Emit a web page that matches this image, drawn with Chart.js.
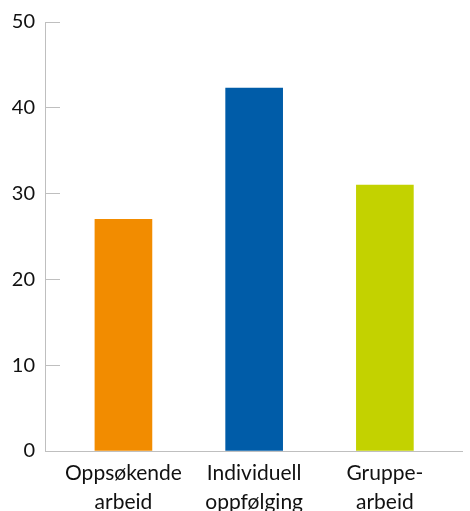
<!DOCTYPE html>
<html>
<head>
<meta charset="utf-8">
<script src="https://cdn.jsdelivr.net/npm/chart.js@4/dist/chart.umd.min.js"></script>
<style>
  html, body { margin: 0; padding: 0; background: #fff; }
  #wrap { width: 470px; height: 511px; }
</style>
</head>
<body>
<div id="wrap"><canvas id="chart"></canvas></div>
<script>
// Categories (two-line labels) and values
const categories = [
  ['Oppsøkende', 'arbeid'],
  ['Individuell', 'oppfølging'],
  ['Gruppe-', 'arbeid'],
];
const values = [27, 42.3, 31];
const barColors = ['#f28c00', '#005ca8', '#c3d200'];
const yTicks = [0, 10, 20, 30, 40, 50];

const axisGray = '#bfbfbf';

const ctx = document.getElementById('chart').getContext('2d');

new Chart(ctx, {
  type: 'bar',
  data: {
    datasets: [
      {
        data: values.map((v, i) => ({ x: i, y: v })),
        backgroundColor: barColors,
        borderWidth: 0,
        barThickness: 57,
      },
    ],
  },
  options: {
    responsive: true,
    maintainAspectRatio: false,
    animation: false,
    layout: { padding: { top: 22, right: 8, left: 0, bottom: 0 } },
    plugins: {
      legend: { display: false },
      tooltip: { enabled: false },
    },
    scales: {
      x: {
        type: 'linear',
        offset: false,
        bounds: 'ticks',
        min: -0.6,
        max: 2.59,
        grid: { display: false, drawTicks: false, offset: false },
        border: { display: true, color: axisGray, width: 1 },
        afterBuildTicks: scale => {
          scale.ticks = categories.map((_, i) => ({ value: i }));
        },
        afterFit: scale => { scale.height = 60; },
        ticks: {
          padding: 8,
          maxRotation: 0,
          autoSkip: false,
          color: '#111',
          font: { family: 'Lato', size: 21, lineHeight: 1.36 },
          callback: value => categories[value],
        },
      },
      y: {
        min: 0,
        max: 50,
        afterBuildTicks: scale => {
          scale.ticks = yTicks.map(v => ({ value: v }));
        },
        afterFit: scale => {
          scale.width = 45;
          // the big label padding is only meant horizontally
          scale.paddingTop = 12;
          scale.paddingBottom = 12;
        },
        grid: {
          drawOnChartArea: false,
          drawTicks: true,
          tickLength: -15,
          color: axisGray,
          lineWidth: 1,
        },
        border: { display: true, color: axisGray, width: 1 },
        ticks: {
          padding: 25,
          color: '#111',
          font: { family: 'Lato', size: 20 },
        },
      },
    },
  },
});
</script>
</body>
</html>
